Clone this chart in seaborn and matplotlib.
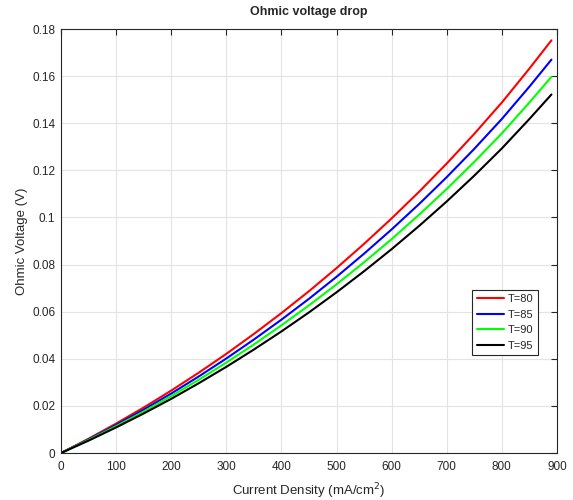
import pandas as pd
import matplotlib
matplotlib.use('Agg')
import matplotlib.pyplot as plt
import seaborn as sns
from matplotlib.ticker import FuncFormatter

current_density = [0, 50, 100, 150, 200, 250, 300, 350, 400, 450,
                   500, 550, 600, 650, 700, 750, 800, 850, 890]
v_t80 = [0, 0.00605, 0.0125, 0.0193, 0.0265, 0.0341, 0.0421, 0.05055, 0.0594, 0.0687,
         0.0785, 0.0888, 0.0996, 0.11095, 0.1229, 0.1355, 0.1488, 0.1632, 0.1752]
v_t85 = [0, 0.00577, 0.01191, 0.01839, 0.02525, 0.0325, 0.04012, 0.04817, 0.05661, 0.06547,
         0.07481, 0.08463, 0.09492, 0.10574, 0.11712, 0.12913, 0.14181, 0.15553, 0.1670]
v_t90 = [0, 0.00552, 0.0114, 0.0176, 0.02417, 0.0311, 0.0384, 0.0461, 0.0542, 0.0627,
         0.0716, 0.0810, 0.0908, 0.1012, 0.1121, 0.1236, 0.1357, 0.1488, 0.1597]
v_t95 = [0, 0.00526, 0.01086, 0.01677, 0.0230, 0.02963, 0.03658, 0.04393, 0.05162, 0.0597,
         0.06822, 0.07717, 0.08655, 0.09642, 0.1068, 0.11775, 0.1293, 0.1418, 0.1522]
series_labels = ['T=80', 'T=85', 'T=90', 'T=95']
colors = ['#ff0000', '#0000ff', '#00ff00', '#000000']

frames = []
for lab, vals in zip(series_labels, [v_t80, v_t85, v_t90, v_t95]):
    frames.append(pd.DataFrame({'j': current_density, 'v': vals, 'T': lab}))
df = pd.concat(frames, ignore_index=True)

sns.set_theme(style='white')
plt.rcParams['font.family'] = ['Liberation Sans', 'DejaVu Sans']

fig = plt.figure(figsize=(5.73, 5.0), dpi=100)
ax = fig.add_axes([0.1065, 0.094, 0.8655, 0.848])

sns.lineplot(data=df, x='j', y='v', hue='T', palette=colors, linewidth=1.5, ax=ax)

ax.set_xlim(0, 900)
ax.set_ylim(0, 0.18)
ax.set_xticks(range(0, 901, 100))
ax.set_yticks([i * 0.02 for i in range(10)])
ax.yaxis.set_major_formatter(FuncFormatter(lambda v, p: f'{v:g}'))
ax.grid(True, color='#e3e3e3', linewidth=0.8)
ax.set_axisbelow(True)
for s in ax.spines.values():
    s.set_color('#262626')
    s.set_linewidth(0.8)
ax.tick_params(direction='in', top=True, right=True, length=4, width=0.8,
               color='#262626', labelsize=8.5, labelcolor='#262626', pad=4)
ax.tick_params(axis='x', pad=6)

ax.set_title('Ohmic voltage drop', fontsize=9, fontweight='bold', pad=10)
ax.set_xlabel('Current Density (mA/cm$^2$)', fontsize=9.5, color='#262626', labelpad=6)
ax.set_ylabel('Ohmic Voltage (V)', fontsize=9.5, color='#262626', labelpad=3)

leg = ax.legend(loc='lower right', bbox_to_anchor=(0.962, 0.231), fontsize=8,
                frameon=True, fancybox=False, edgecolor='#262626', framealpha=1,
                handlelength=2.4, handletextpad=0.4, borderpad=0.4, labelspacing=0.5,
                borderaxespad=0)
leg.get_frame().set_linewidth(0.8)

fig.savefig('out.png', dpi=100)
